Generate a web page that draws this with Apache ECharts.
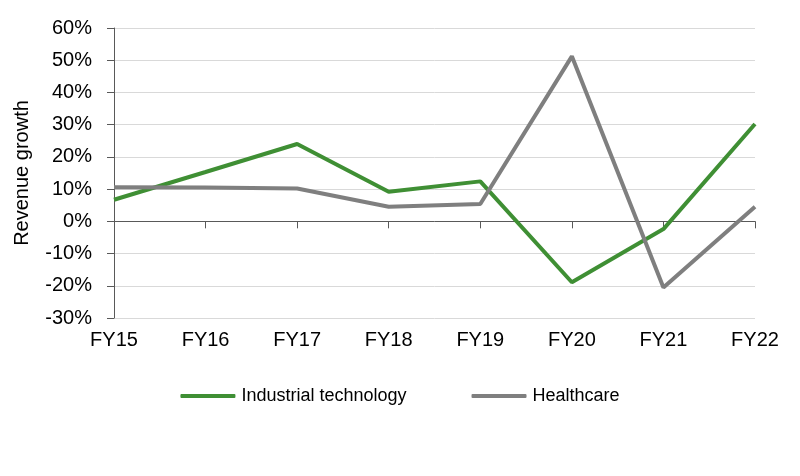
<!DOCTYPE html>
<html>
<head>
<meta charset="utf-8">
<script src="https://cdn.jsdelivr.net/npm/echarts@6/dist/echarts.min.js"></script>
<style>html,body{margin:0;padding:0;background:#fff}#c{width:800px;height:476px}</style>
</head>
<body>
<div id="c"></div>
<script>
const categories = ['FY15','FY16','FY17','FY18','FY19','FY20','FY21','FY22'];
const industrialTech = [6.7, 15.3, 24.0, 9.2, 12.4, -18.9, -2.4, 30.2];
const healthcare = [10.6, 10.5, 10.2, 4.5, 5.4, 51.2, -20.5, 4.5];
const yTicks = {min: -30, max: 60, interval: 10};

const font = 'Liberation Sans, Arial, sans-serif';
const chart = echarts.init(document.getElementById('c'), null, {renderer: 'canvas'});
chart.setOption({
  animation: false,
  backgroundColor: '#ffffff',
  grid: {left: 114, right: 45, top: 28, bottom: 158},
  legend: {
    bottom: 66,
    left: 'center',
    itemWidth: 55,
    itemHeight: 4,
    itemGap: 65,
    icon: 'roundRect',
    textStyle: {fontFamily: font, fontSize: 18, color: '#000', padding: [0, 0, 0, 1]},
    data: ['Industrial technology', 'Healthcare']
  },
  xAxis: [{
    type: 'category',
    data: categories,
    boundaryGap: false,
    position: 'bottom',
    axisLine: {onZero: true, lineStyle: {color: '#595959', width: 1}},
    axisTick: {show: true, length: 7, lineStyle: {color: '#595959'}},
    axisLabel: {show: false},
    splitLine: {show: false}
  }, {
    type: 'category',
    data: categories,
    boundaryGap: false,
    position: 'bottom',
    axisLine: {show: false, onZero: false},
    axisTick: {show: false},
    axisLabel: {show: true, fontFamily: font, fontSize: 20, color: '#000', margin: 12},
    splitLine: {show: false}
  }],
  yAxis: {
    type: 'value',
    min: yTicks.min, max: yTicks.max, interval: yTicks.interval,
    name: 'Revenue growth',
    nameLocation: 'middle',
    nameGap: 82,
    nameRotate: 90,
    nameTextStyle: {fontFamily: font, fontSize: 20, color: '#000'},
    axisLine: {show: true, lineStyle: {color: '#595959', width: 1}},
    axisTick: {show: true, length: 7, lineStyle: {color: '#595959'}},
    axisLabel: {fontFamily: font, fontSize: 20, color: '#000', margin: 22, formatter: v => v + '%'},
    splitLine: {show: true, lineStyle: {color: '#d9d9d9', width: 1}}
  },
  series: [{
    name: 'Industrial technology',
    type: 'line',
    xAxisIndex: 0,
    data: industrialTech,
    symbol: 'none',
    lineStyle: {color: '#3f8f34', width: 4},
    itemStyle: {color: '#3f8f34'}
  }, {
    name: 'Healthcare',
    type: 'line',
    xAxisIndex: 0,
    data: healthcare,
    symbol: 'none',
    lineStyle: {color: '#7f7f7f', width: 4},
    itemStyle: {color: '#7f7f7f'}
  }]
});
</script>
</body>
</html>
